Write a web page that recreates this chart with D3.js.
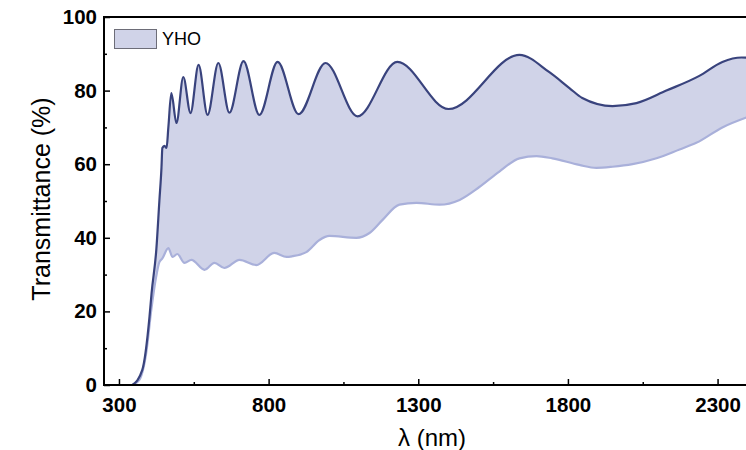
<!DOCTYPE html>
<html>
<head>
<meta charset="utf-8">
<script src="https://cdn.jsdelivr.net/npm/d3@7"></script>
<style>
  body { margin: 0; background: #fff; }
  svg { display: block; font-family: "Liberation Sans", Arial, sans-serif; }
</style>
</head>
<body>
<svg width="746" height="450"></svg>
<script>
// upper envelope (dark line), wavelength nm / transmittance %
var upperWl = [345, 378, 402, 409, 425, 435, 442, 445, 452, 459, 465, 475, 492, 515, 539, 566, 596, 632, 669, 716, 769, 830, 900, 990, 1097, 1230, 1401, 1638, 1738, 1805, 1848, 1949, 2029, 2129, 2239, 2316, 2380, 2400]
var upperT  = [0, 4.1, 18.5, 25, 37, 50, 59, 64.4, 65, 64.4, 70, 79.3, 71.2, 83.7, 73.9, 87, 73.4, 87.5, 74, 88, 73.4, 87.8, 73.6, 87.5, 73, 87.8, 75, 89.7, 85, 80.7, 78, 75.8, 76.6, 80, 84, 87.8, 89, 88.9]

// lower envelope (light line)
var lowerWl = [345, 368, 391, 408, 424, 435, 445, 465, 479, 495, 519, 542, 586, 619, 652, 703, 759, 819, 860, 880, 926, 970, 1003, 1093, 1137, 1180, 1237, 1294, 1371, 1438, 1504, 1571, 1638, 1695, 1748, 1838, 1895, 1949, 2016, 2096, 2173, 2229, 2316, 2400]
var lowerT  = [0, 1.4, 8.7, 20.4, 29.3, 33.4, 34.4, 37.2, 34.8, 35.6, 33.2, 34, 31.3, 33.2, 31.8, 34, 32.6, 35.9, 34.8, 35, 36.1, 39.4, 40.5, 40, 41.3, 44.8, 49, 49.5, 49, 50.3, 53.8, 58, 61.6, 62.2, 61.6, 59.8, 59, 59.3, 60, 61.6, 64, 65.8, 70, 72.8]

var xTicks = [300, 800, 1300, 1800, 2300]
var xMinor = [550, 1050, 1550, 2050]
var yTicks = [0, 20, 40, 60, 80, 100]
var yMinor = [10, 30, 50, 70, 90]
var seriesName = 'YHO'

var upper = upperWl.map(function(w, i){ return [w, upperT[i]] })
var lower = lowerWl.map(function(w, i){ return [w, lowerT[i]] })

var svg = d3.select('svg')

var mapX = d3.scaleLinear().domain([250, 2400]).range([104, 747.5])
var mapY = d3.scaleLinear().domain([0, 100]).range([385, 17])

svg.append('clipPath').attr('id', 'plot')
    .append('rect')
    .attr('x', 104).attr('y', 17)
    .attr('width', 650).attr('height', 368)

var lineGen = d3.line()
    .x(function(d){ return mapX(d[0]) })
    .y(function(d){ return mapY(d[1]) })
    .curve(d3.curveMonotoneX)

var areaUnder = d3.area()
    .x(function(d){ return mapX(d[0]) })
    .y0(mapY(0))
    .y1(function(d){ return mapY(d[1]) })
    .curve(d3.curveMonotoneX)

var g = svg.append('g').attr('clip-path', 'url(#plot)')

// fill under upper, then white-out under lower -> band between them
g.append('path').datum(upper).attr('d', areaUnder).attr('fill', '#d0d3e8')
g.append('path').datum(lower).attr('d', areaUnder).attr('fill', '#fff')

g.append('path').datum(lower).attr('d', lineGen)
    .attr('fill', 'none').attr('stroke', '#a9b0da').attr('stroke-width', 2.2)
g.append('path').datum(upper).attr('d', lineGen)
    .attr('fill', 'none').attr('stroke', '#39437d').attr('stroke-width', 2.2)

// axes, ticks pointing inside
var axisY = d3.axisLeft(mapY).tickValues(yTicks).tickSize(-6).tickPadding(7)
svg.append('g').attr('transform', 'translate(104, 0)').call(axisY)
var axisYm = d3.axisLeft(mapY).tickValues(yMinor).tickSize(-3).tickFormat('')
svg.append('g').attr('transform', 'translate(104, 0)').call(axisYm)

var axisX = d3.axisBottom(mapX).tickValues(xTicks).tickSize(-6).tickPadding(12).tickFormat(d3.format('d'))
svg.append('g').attr('transform', 'translate(0, 385)').call(axisX)
var axisXm = d3.axisBottom(mapX).tickValues(xMinor).tickSize(-3).tickFormat('')
svg.append('g').attr('transform', 'translate(0, 385)').call(axisXm)

svg.selectAll('.domain').remove()
svg.selectAll('.tick line').attr('stroke', '#000').attr('stroke-width', 1.5)
svg.selectAll('.tick text')
    .attr('fill', '#000')
    .style('font-size', '20.5px')
    .style('font-weight', 'bold')
    .style('font-family', '"Liberation Sans", Arial, sans-serif')

// frame
svg.append('rect')
    .attr('x', 104).attr('y', 17)
    .attr('width', 700).attr('height', 368)
    .attr('fill', 'none').attr('stroke', '#000').attr('stroke-width', 2)

// legend
svg.append('rect')
    .attr('x', 114.5).attr('y', 29.5)
    .attr('width', 42).attr('height', 19)
    .attr('fill', '#d0d3e8').attr('stroke', '#6d6d78').attr('stroke-width', 1)
svg.append('text')
    .attr('x', 162).attr('y', 45)
    .style('font-size', '18px')
    .text(seriesName)

// titles
svg.append('text')
    .attr('x', 432).attr('y', 446)
    .attr('text-anchor', 'middle')
    .style('font-size', '24px')
    .text('λ (nm)')

svg.append('text')
    .attr('transform', 'translate(50, 199) rotate(-90)')
    .attr('text-anchor', 'middle')
    .style('font-size', '25px')
    .text('Transmittance (%)')
</script>
</body>
</html>
